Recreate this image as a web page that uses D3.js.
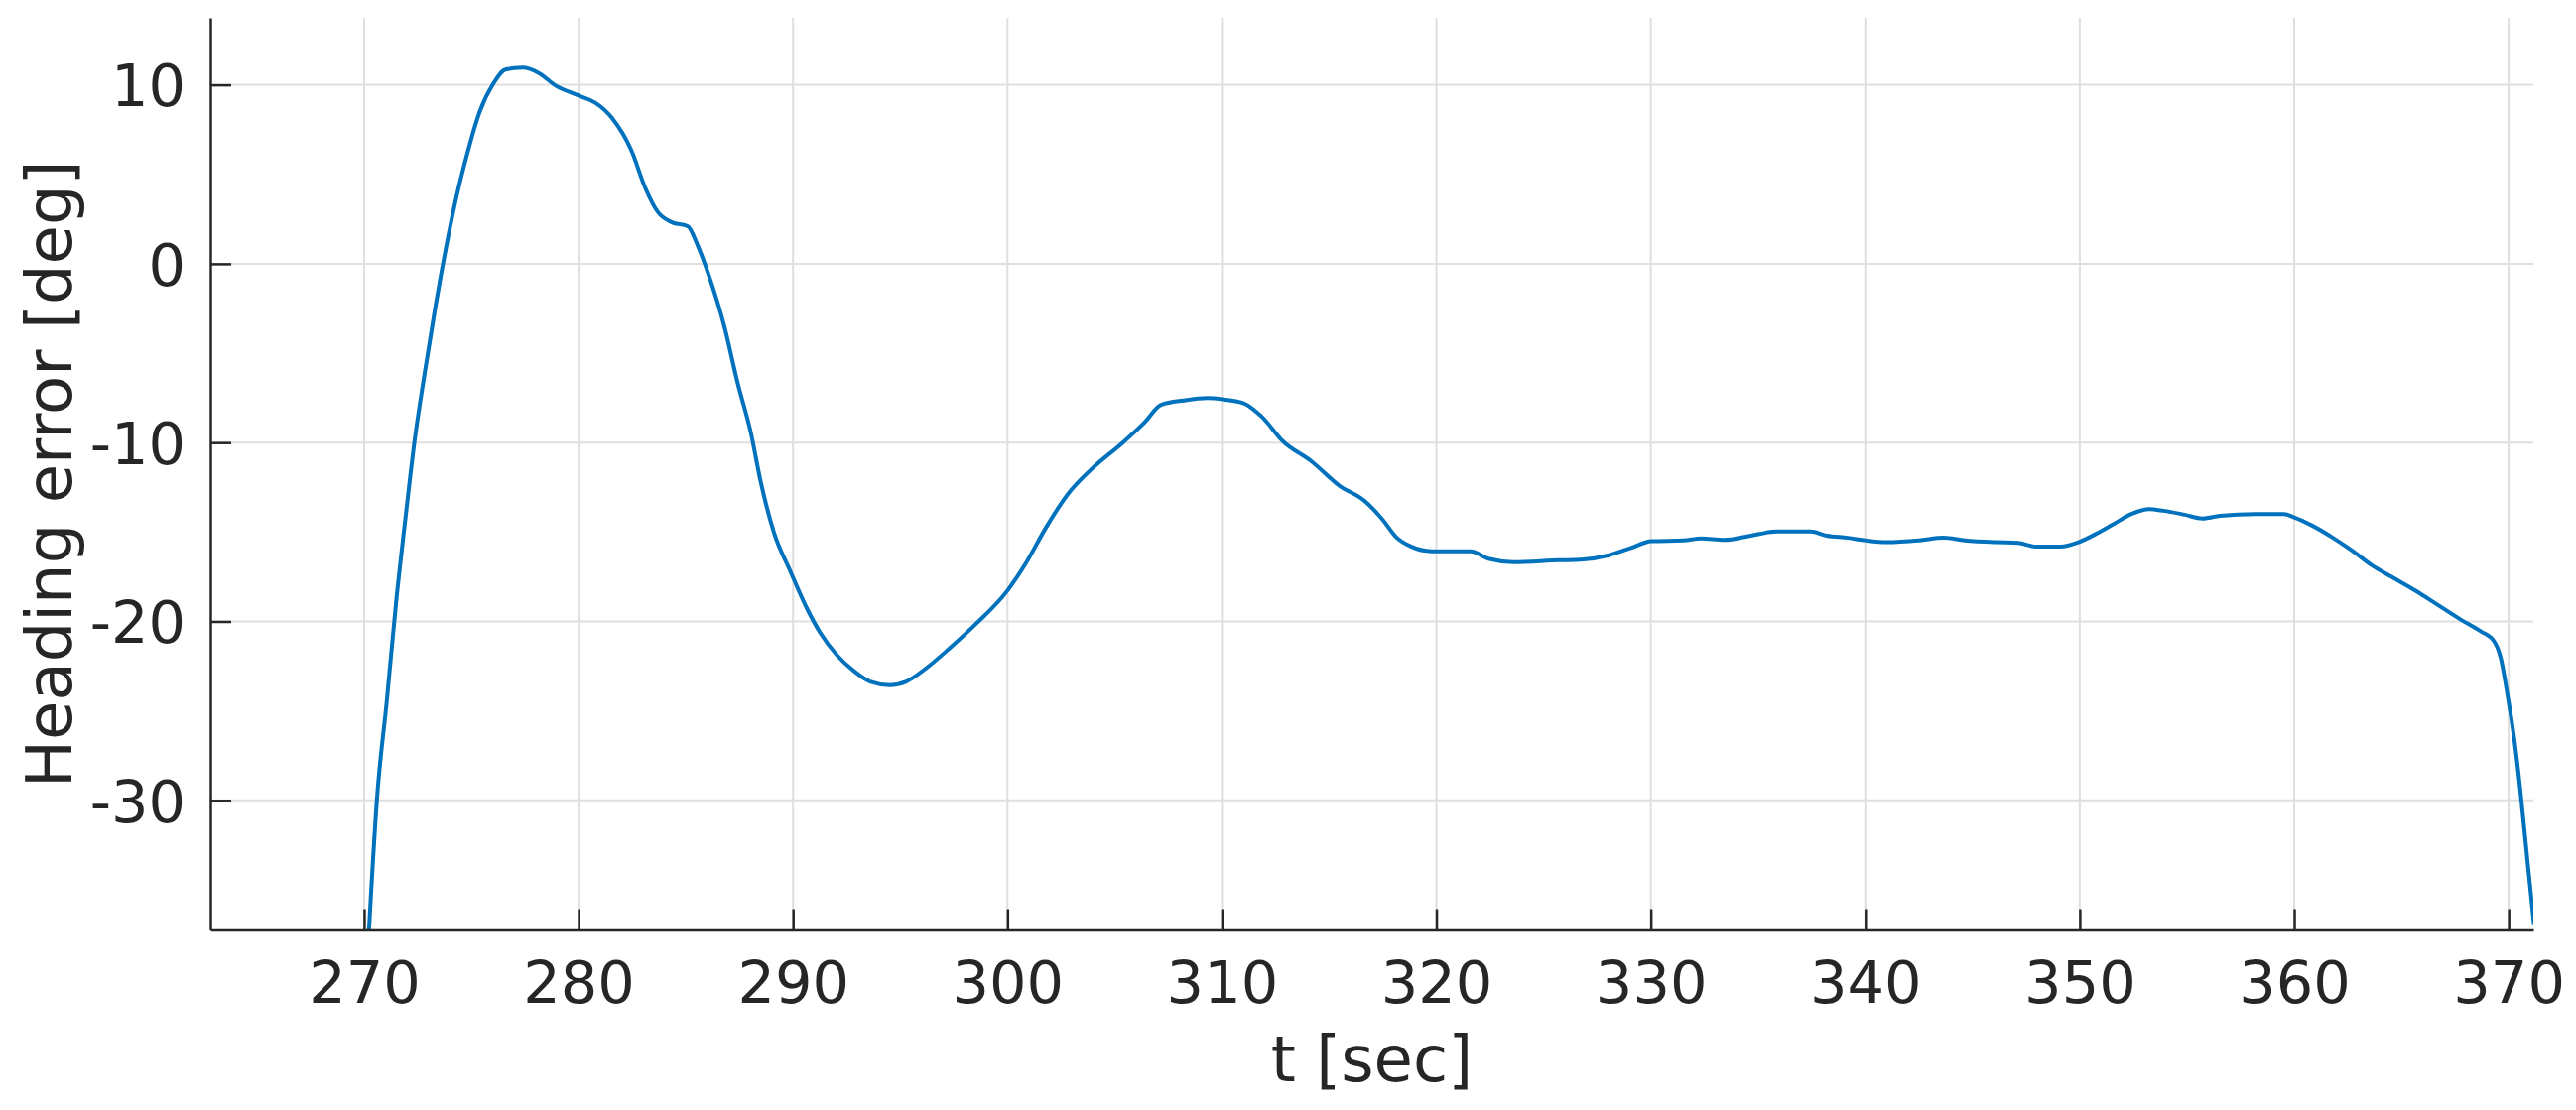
<!DOCTYPE html>
<html>
<head>
<meta charset="utf-8">
<script src="https://cdn.jsdelivr.net/npm/d3@7"></script>
<style>
  html, body { margin: 0; padding: 0; background: #fff; }
  svg { display: block; }
</style>
</head>
<body>
<svg id="chart" width="2596" height="1119"></svg>
<script>
// ---- data ----
const timeSec = [
  270.22, 270.6, 271.06, 271.53, 271.91, 272.37, 272.84, 273.3, 273.76, 274.23,
  274.77, 275.38, 276.0, 276.62, 277.39, 278.16, 278.93, 280.0, 280.78, 281.55,
  282.48, 283.1, 283.71, 284.33, 285.1, 285.56, 286.18, 286.8, 287.41, 288.03,
  288.5, 289.11, 289.88, 290.65, 291.27, 292.04, 292.81, 293.59, 294.51, 295.28,
  296.2, 297.29, 298.52, 299.99, 300.83, 301.76, 302.84, 303.92, 305.31, 306.39,
  307.16, 308.24, 309.32, 310.09, 311.02, 311.85, 312.85, 314.17, 315.49, 316.65,
  317.47, 318.13, 318.79, 319.79, 321.6, 322.43, 323.59, 325.73, 326.73, 328.05,
  329.04, 330.03, 331.52, 332.35, 333.42, 334.66, 335.88, 337.45, 338.2, 339.19,
  340.02, 341.01, 342.5, 343.65, 344.64, 346.13, 347.12, 347.95, 349.1, 349.93,
  350.76, 351.58, 352.41, 353.24, 353.9, 354.89, 355.72, 356.54, 358.2, 359.52,
  360.0, 360.84, 361.77, 362.69, 363.62, 364.54, 365.62, 366.7, 367.78, 368.71,
  369.32, 369.63, 369.94, 370.25, 370.56, 370.87, 371.18
];
const headingErr = [
  -37.4, -29.9, -24.4, -18.45, -14.4, -9.74, -6.0, -2.58, 0.53, 3.33,
  5.98, 8.47, 10.02, 10.87, 10.96, 10.65, 9.96, 9.4, 9.0, 8.16,
  6.29, 4.27, 2.87, 2.33, 2.09, 1.0, -1.03, -3.52, -6.63, -9.43,
  -12.23, -15.03, -17.21, -19.28, -20.64, -21.87, -22.74, -23.36, -23.56, -23.36,
  -22.62, -21.51, -20.15, -18.29, -16.8, -14.82, -12.84, -11.48, -10.07, -8.87,
  -7.89, -7.64, -7.51, -7.59, -7.8, -8.54, -9.93, -11.04, -12.42, -13.26,
  -14.27, -15.29, -15.79, -16.07, -16.08, -16.49, -16.68, -16.58, -16.55, -16.3,
  -15.9, -15.51, -15.47, -15.35, -15.44, -15.2, -14.97, -14.97, -15.2, -15.32,
  -15.47, -15.57, -15.47, -15.32, -15.47, -15.57, -15.6, -15.81, -15.81, -15.57,
  -15.1, -14.55, -13.99, -13.72, -13.81, -14.03, -14.24, -14.09, -13.99, -13.99,
  -14.18, -14.64, -15.29, -16.03, -16.86, -17.51, -18.25, -19.08, -19.91, -20.56,
  -21.11, -22.04, -24.07, -26.47, -29.62, -33.32, -36.92
];
const xTicks = [270, 280, 290, 300, 310, 320, 330, 340, 350, 360, 370];
const yTicks = [10, 0, -10, -20, -30];
const xDomain = [262.83, 371.15];
const yDomain = [-37.25, 13.75];
const xLabel = "t [sec]";
const yLabel = "Heading error [deg]";

// ---- layout ----
const L = 212, R = 2553, T = 18, B = 937.5;
const ink = "#262626";
const font = "'DejaVu Sans', sans-serif";
const fmt = d => String(d);   // plain hyphen-minus, as in the reference

const svg = d3.select("#chart");
const x = d3.scaleLinear().domain(xDomain).range([L, R]);
const y = d3.scaleLinear().domain(yDomain).range([B, T]);

// grid
const grid = svg.append("g").attr("stroke", "#dfdfdf").attr("stroke-width", 2);
grid.selectAll("line.vx").data(xTicks).enter().append("line")
  .attr("x1", d => x(d)).attr("x2", d => x(d)).attr("y1", T).attr("y2", B);
grid.selectAll("line.hy").data(yTicks).enter().append("line")
  .attr("x1", L).attr("x2", R).attr("y1", d => y(d)).attr("y2", d => y(d));

// clip
svg.append("defs").append("clipPath").attr("id", "plotclip")
  .append("rect").attr("x", L).attr("y", T).attr("width", R - L).attr("height", B - T);

// line
const pts = timeSec.map((t, i) => [t, headingErr[i]]);
const line = d3.line().x(d => x(d[0])).y(d => y(d[1])).curve(d3.curveMonotoneX);
svg.append("path").datum(pts)
  .attr("clip-path", "url(#plotclip)")
  .attr("fill", "none").attr("stroke", "#0072BD").attr("stroke-width", 4)
  .attr("stroke-linejoin", "round")
  .attr("d", line);

// axes
const xAxis = svg.append("g").attr("transform", `translate(0,${B})`)
  .call(d3.axisBottom(x).tickValues(xTicks).tickSizeInner(-21).tickSizeOuter(0).tickFormat(fmt));
const yAxis = svg.append("g").attr("transform", `translate(${L},0)`)
  .call(d3.axisLeft(y).tickValues(yTicks).tickSizeInner(-21).tickSizeOuter(0).tickFormat(fmt));

[xAxis, yAxis].forEach(g => {
  g.select(".domain").attr("stroke", ink).attr("stroke-width", 2.5);
  g.selectAll(".tick line").attr("stroke", ink).attr("stroke-width", 2.5);
  g.selectAll(".tick text").attr("fill", ink).attr("font-family", font).attr("font-size", 59);
});
xAxis.selectAll(".tick text").attr("y", 73.5).attr("dy", 0);
yAxis.selectAll(".tick text").attr("x", -25).attr("dy", "0.36em");

// labels
svg.append("text").attr("x", (L + R) / 2).attr("y", 1090)
  .attr("text-anchor", "middle").attr("fill", ink)
  .attr("font-family", font).attr("font-size", 64).text(xLabel);
svg.append("text").attr("transform", `translate(72,${(T + B) / 2}) rotate(-90)`)
  .attr("text-anchor", "middle").attr("fill", ink)
  .attr("font-family", font).attr("font-size", 64).text(yLabel);
</script>
</body>
</html>
